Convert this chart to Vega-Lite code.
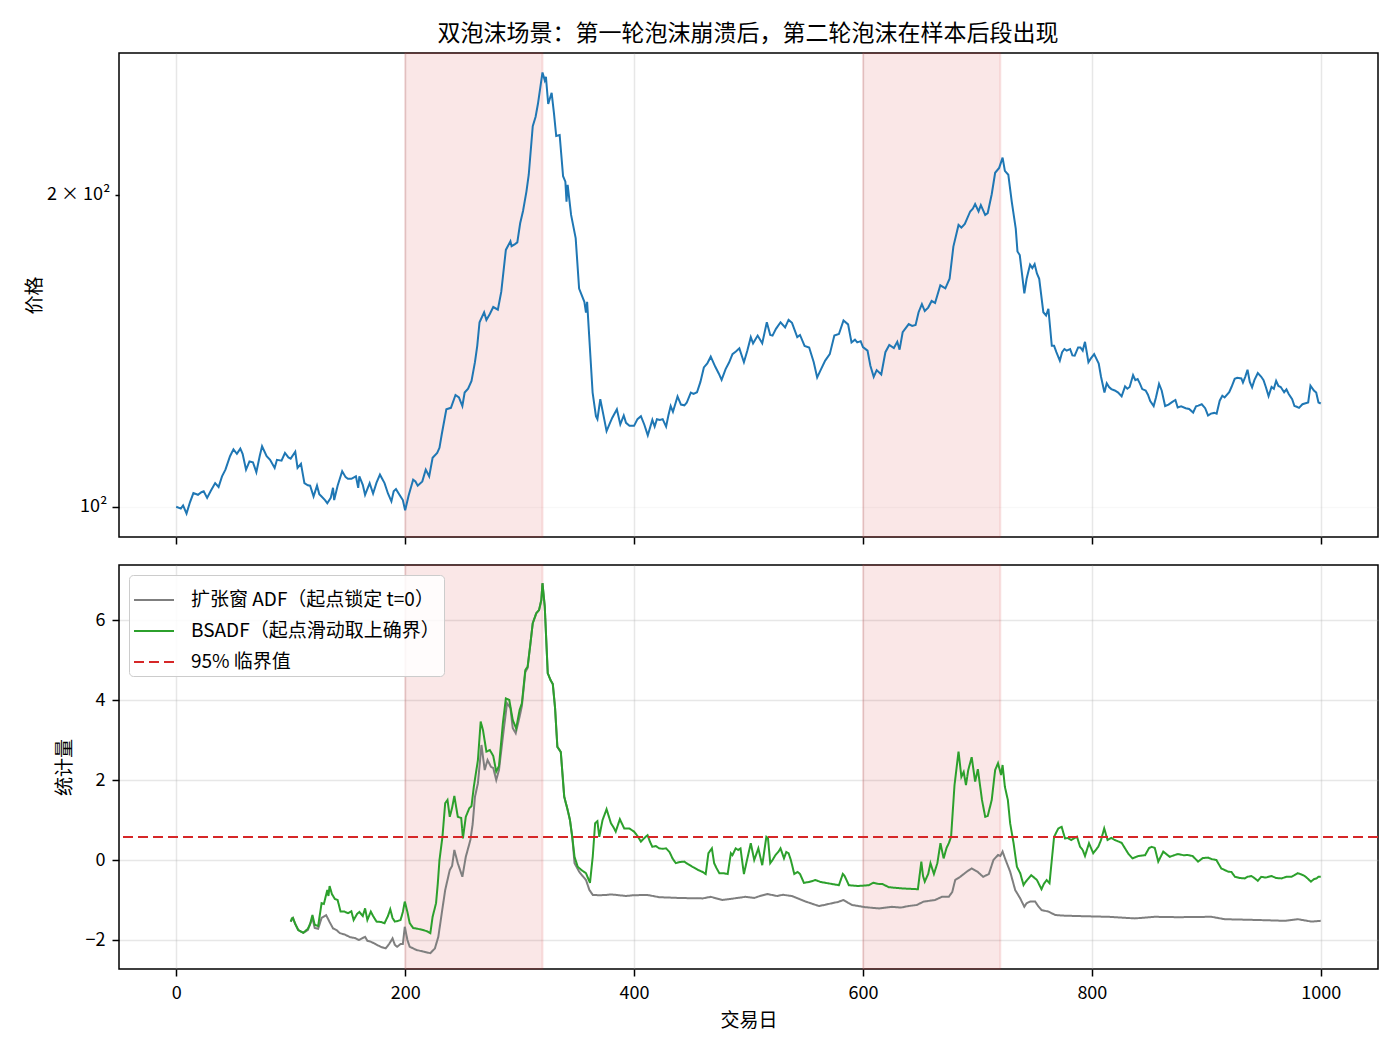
{
  "$schema": "https://vega.github.io/schema/vega-lite/v6.json",
  "background": "white",
  "padding": {"left": 24, "top": 23, "right": 17, "bottom": 5},
  "title": {
    "text": "双泡沫场景：第一轮泡沫崩溃后，第二轮泡沫在样本后段出现",
    "fontSize": 23,
    "fontWeight": "normal",
    "color": "#000000",
    "anchor": "middle",
    "offset": 5,
    "dx": 46
  },
  "config": {
    "font": "Noto Sans CJK SC",
    "view": {"stroke": "#000000", "strokeWidth": 1.5},
    "axis": {
      "domain": false,
      "labelFontSize": 18,
      "labelColor": "#000000",
      "labelPadding": 5,
      "titleFontSize": 19,
      "titleFontWeight": "normal",
      "titleColor": "#000000",
      "titlePadding": 8,
      "tickColor": "#000000",
      "tickWidth": 1.5,
      "tickSize": 7,
      "gridColor": "#b0b0b0",
      "gridOpacity": 0.3,
      "gridWidth": 1.5
    }
  },
  "resolve": {
    "scale": {"color": "independent", "strokeDash": "independent"},
    "legend": {"color": "independent", "strokeDash": "independent"}
  },
  "datasets": {
    "spans": [{"start": 200, "end": 320}, {"start": 600, "end": 720}],
    "critical": [{"v": 0.575}],
    "price": [
      {"t":0,"p":100},{"t":4,"p":99.6},{"t":6,"p":100.3},{"t":9,"p":98.5},{"t":12,"p":101},{"t":15,"p":103.1},{"t":19,"p":102.7},{"t":22,"p":103.3},{"t":24,"p":103.5},{"t":27,"p":102},{"t":30,"p":103.5},{"t":34,"p":105.4},{"t":37,"p":104.5},{"t":40,"p":107},{"t":43,"p":108.6},{"t":47,"p":111.9},{"t":50,"p":113.6},{"t":53,"p":112.5},{"t":56,"p":113.8},{"t":58,"p":112.5},{"t":61,"p":108.6},{"t":64,"p":110.6},{"t":67,"p":110.4},{"t":70,"p":108},{"t":73,"p":112},{"t":75,"p":114.4},{"t":79,"p":111.9},{"t":82,"p":111},{"t":86,"p":109},{"t":88,"p":111},{"t":92,"p":110.8},{"t":95,"p":112.7},{"t":98,"p":111.6},{"t":100,"p":111.3},{"t":104,"p":113},{"t":106,"p":109},{"t":109,"p":110},{"t":112,"p":105.4},{"t":115,"p":104.9},{"t":117,"p":104.8},{"t":120,"p":102.3},{"t":123,"p":104.8},{"t":125,"p":102.8},{"t":127,"p":102.3},{"t":130,"p":101.5},{"t":132,"p":100.8},{"t":135,"p":102},{"t":137,"p":104.3},{"t":138,"p":101.5},{"t":141,"p":104.8},{"t":145,"p":108.2},{"t":148,"p":106.8},{"t":150,"p":106.4},{"t":153,"p":106.4},{"t":157,"p":107},{"t":159,"p":104.3},{"t":160,"p":107},{"t":163,"p":105},{"t":165,"p":102.7},{"t":169,"p":105.4},{"t":172,"p":103},{"t":175,"p":105.5},{"t":178,"p":107.4},{"t":182,"p":105.4},{"t":185,"p":103},{"t":188,"p":101.2},{"t":190,"p":103.5},{"t":192,"p":104},{"t":196,"p":102.3},{"t":198,"p":101.5},{"t":200,"p":99.2},{"t":203,"p":102.5},{"t":207,"p":106.2},{"t":209,"p":105.8},{"t":211,"p":104.8},{"t":215,"p":105.8},{"t":218,"p":108.6},{"t":221,"p":107},{"t":224,"p":111.5},{"t":228,"p":112.7},{"t":230,"p":114},{"t":232,"p":117.5},{"t":236,"p":124.2},{"t":240,"p":124.6},{"t":244,"p":128.2},{"t":247,"p":127.5},{"t":250,"p":125.1},{"t":252,"p":128.9},{"t":255,"p":130},{"t":258,"p":132.3},{"t":261,"p":137.9},{"t":263,"p":143},{"t":265,"p":150.7},{"t":269,"p":154.1},{"t":271,"p":151.5},{"t":274,"p":153.5},{"t":277,"p":155.9},{"t":281,"p":155},{"t":284,"p":161.3},{"t":288,"p":177},{"t":292,"p":180.4},{"t":293,"p":178.5},{"t":296,"p":179.3},{"t":298,"p":180},{"t":300.5,"p":187.8},{"t":303,"p":193},{"t":306,"p":201.6},{"t":308,"p":209.2},{"t":311.5,"p":233},{"t":314,"p":238},{"t":316,"p":244.8},{"t":320,"p":262.6},{"t":322,"p":258},{"t":323,"p":260},{"t":325,"p":244.8},{"t":328,"p":251},{"t":330,"p":240},{"t":332,"p":228},{"t":335,"p":228.5},{"t":338,"p":208.5},{"t":340,"p":206},{"t":341,"p":197},{"t":342,"p":204.5},{"t":345,"p":191.3},{"t":349,"p":181.7},{"t":352,"p":162.4},{"t":356.6,"p":157.7},{"t":358,"p":154},{"t":359,"p":157.7},{"t":363.8,"p":128.9},{"t":366.7,"p":122.3},{"t":368,"p":121.5},{"t":370.5,"p":127},{"t":373,"p":123},{"t":376,"p":118.3},{"t":379,"p":120.5},{"t":381,"p":121.9},{"t":385,"p":124.2},{"t":388,"p":120.1},{"t":391,"p":122.5},{"t":393,"p":120.5},{"t":396,"p":119.7},{"t":400,"p":119.7},{"t":403,"p":121.5},{"t":406,"p":122.3},{"t":409,"p":120},{"t":412,"p":117.2},{"t":416,"p":121.3},{"t":418,"p":119.5},{"t":420,"p":121.5},{"t":422.6,"p":121.3},{"t":425,"p":121.5},{"t":428,"p":119.5},{"t":430,"p":122.5},{"t":432,"p":125.1},{"t":434,"p":123.5},{"t":438,"p":127.8},{"t":441,"p":125.5},{"t":444,"p":125.3},{"t":446,"p":126},{"t":449.6,"p":128.9},{"t":452,"p":128.5},{"t":455,"p":129},{"t":458,"p":132},{"t":461,"p":136.3},{"t":464,"p":137.5},{"t":467,"p":139.6},{"t":471,"p":136.5},{"t":474,"p":134.5},{"t":476.5,"p":132.6},{"t":480,"p":135.8},{"t":483,"p":137.8},{"t":486,"p":140.4},{"t":489,"p":141.2},{"t":492,"p":142.2},{"t":496,"p":137.9},{"t":499,"p":141.5},{"t":502,"p":145.8},{"t":504,"p":143.8},{"t":508,"p":146.3},{"t":512,"p":143.8},{"t":516,"p":150.7},{"t":519,"p":146.5},{"t":521,"p":146.3},{"t":524,"p":148.5},{"t":528,"p":150.7},{"t":532,"p":149},{"t":535,"p":151.5},{"t":538,"p":150.5},{"t":542.6,"p":145.8},{"t":545,"p":146.5},{"t":549,"p":143},{"t":553,"p":142.5},{"t":557,"p":137.9},{"t":560,"p":133.3},{"t":563,"p":135.5},{"t":567,"p":138.4},{"t":571,"p":140.4},{"t":575,"p":146.3},{"t":579,"p":146.8},{"t":583,"p":151.3},{"t":587,"p":150},{"t":590,"p":144.1},{"t":593,"p":145},{"t":595,"p":144.1},{"t":598,"p":144.5},{"t":600,"p":142.6},{"t":604,"p":141.5},{"t":606.5,"p":136.8},{"t":609.4,"p":133.5},{"t":612,"p":135.5},{"t":616,"p":134.2},{"t":619.6,"p":141},{"t":623,"p":143.3},{"t":627,"p":142.3},{"t":630,"p":144.3},{"t":632,"p":141.8},{"t":634.7,"p":147.4},{"t":640,"p":150.1},{"t":643,"p":149.5},{"t":646,"p":149.8},{"t":648.6,"p":154.1},{"t":651.5,"p":156.9},{"t":654,"p":154.5},{"t":657,"p":155.7},{"t":660,"p":158},{"t":663,"p":157.3},{"t":667.6,"p":163.6},{"t":672,"p":162.5},{"t":675.7,"p":166},{"t":679,"p":178.3},{"t":683.5,"p":187.1},{"t":686,"p":186},{"t":689,"p":187.5},{"t":693.7,"p":192.8},{"t":696,"p":194},{"t":698,"p":196},{"t":701,"p":192.8},{"t":703,"p":195.5},{"t":706.8,"p":191.3},{"t":709,"p":192.1},{"t":712.5,"p":200.3},{"t":715.5,"p":210.1},{"t":719,"p":212.4},{"t":722,"p":217.3},{"t":724,"p":211},{"t":727,"p":209.2},{"t":730,"p":197},{"t":733.5,"p":185.6},{"t":735,"p":176.4},{"t":737,"p":175},{"t":741,"p":160.7},{"t":743,"p":166},{"t":746,"p":171.3},{"t":748,"p":170},{"t":750,"p":171.5},{"t":752,"p":168},{"t":754,"p":166},{"t":757.6,"p":154.1},{"t":760,"p":153},{"t":762,"p":155.3},{"t":765,"p":143},{"t":767,"p":143},{"t":769,"p":141},{"t":772,"p":138.4},{"t":774,"p":141},{"t":776,"p":142},{"t":778,"p":141.5},{"t":781,"p":142},{"t":783,"p":140},{"t":785,"p":139.9},{"t":788,"p":142.5},{"t":790,"p":142.5},{"t":792,"p":141.5},{"t":794,"p":144.3},{"t":797,"p":137.9},{"t":799,"p":139},{"t":802,"p":140.4},{"t":806,"p":137.5},{"t":808,"p":133.5},{"t":811,"p":128.9},{"t":813,"p":131.6},{"t":815,"p":130.5},{"t":817,"p":129.9},{"t":820,"p":129.5},{"t":823,"p":128.9},{"t":826,"p":127.8},{"t":829,"p":130.7},{"t":831,"p":130},{"t":833,"p":130.5},{"t":836,"p":134},{"t":838,"p":132.5},{"t":840,"p":132.8},{"t":842,"p":131.5},{"t":844,"p":129.9},{"t":847,"p":129.5},{"t":849,"p":128.3},{"t":851,"p":126.5},{"t":854,"p":125.1},{"t":856,"p":127.5},{"t":858.7,"p":131.4},{"t":861,"p":129.5},{"t":864,"p":125.1},{"t":867,"p":125.5},{"t":870,"p":126.2},{"t":873,"p":126.8},{"t":875,"p":124.7},{"t":878,"p":125},{"t":882,"p":124.5},{"t":885,"p":124.3},{"t":888.5,"p":123.3},{"t":891,"p":125},{"t":893,"p":125.2},{"t":896,"p":125.6},{"t":899,"p":124.5},{"t":901.5,"p":122.5},{"t":904,"p":123},{"t":907,"p":123.2},{"t":909,"p":123},{"t":911.7,"p":126.6},{"t":914,"p":128},{"t":916,"p":127.5},{"t":920,"p":129},{"t":922,"p":130.5},{"t":924.8,"p":132.9},{"t":927,"p":133.2},{"t":930.6,"p":133},{"t":932,"p":131.8},{"t":934,"p":133.5},{"t":936,"p":135.6},{"t":938,"p":132},{"t":940,"p":130.4},{"t":942,"p":132.5},{"t":945,"p":134.6},{"t":948,"p":133.5},{"t":950,"p":132.5},{"t":952,"p":130.5},{"t":954.4,"p":127.9},{"t":957,"p":130.5},{"t":959,"p":130},{"t":961,"p":132.3},{"t":963,"p":130.8},{"t":965,"p":130.5},{"t":968,"p":129},{"t":970,"p":129.8},{"t":972,"p":128.5},{"t":975,"p":127},{"t":977,"p":125.1},{"t":979,"p":124.9},{"t":981,"p":124.6},{"t":984,"p":125.6},{"t":986,"p":125.8},{"t":989,"p":126.1},{"t":991,"p":130.9},{"t":994,"p":129.5},{"t":996,"p":128.9},{"t":998,"p":126.1},{"t":1000,"p":125.8}
    ],
    "adf": [
      {"t":100,"v":-1.54},{"t":102,"v":-1.45},{"t":104,"v":-1.6},{"t":106.6,"v":-1.75},{"t":111,"v":-1.82},{"t":115,"v":-1.75},{"t":119,"v":-1.45},{"t":121,"v":-1.7},{"t":124,"v":-1.72},{"t":127,"v":-1.45},{"t":131,"v":-1.38},{"t":134,"v":-1.55},{"t":137,"v":-1.71},{"t":140,"v":-1.75},{"t":143,"v":-1.83},{"t":147,"v":-1.86},{"t":152,"v":-1.93},{"t":156,"v":-1.95},{"t":159.6,"v":-2.0},{"t":163,"v":-1.95},{"t":165,"v":-1.92},{"t":167,"v":-2.02},{"t":169.8,"v":-2.04},{"t":174,"v":-2.1},{"t":178.6,"v":-2.17},{"t":183,"v":-2.21},{"t":186,"v":-2.1},{"t":189,"v":-1.96},{"t":191,"v":-2.12},{"t":193,"v":-2.17},{"t":196,"v":-2.1},{"t":198,"v":-2.1},{"t":199.7,"v":-1.67},{"t":202,"v":-2.0},{"t":204,"v":-2.17},{"t":210,"v":-2.25},{"t":216,"v":-2.29},{"t":222,"v":-2.33},{"t":226,"v":-2.21},{"t":229,"v":-1.92},{"t":232,"v":-1.33},{"t":235,"v":-0.75},{"t":239,"v":-0.25},{"t":241,"v":-0.15},{"t":243,"v":0.25},{"t":246,"v":-0.08},{"t":250,"v":-0.42},{"t":253,"v":0.08},{"t":257,"v":0.5},{"t":259,"v":0.9},{"t":261,"v":1.58},{"t":263.6,"v":1.92},{"t":266.7,"v":2.875},{"t":269.5,"v":2.25},{"t":272,"v":2.5},{"t":275,"v":2.33},{"t":277,"v":2.3},{"t":279.6,"v":2.0},{"t":282,"v":2.25},{"t":285.4,"v":3.08},{"t":289,"v":3.92},{"t":292,"v":3.8},{"t":294,"v":3.3},{"t":296.6,"v":3.17},{"t":300,"v":3.58},{"t":302,"v":3.85},{"t":305,"v":4.7},{"t":307,"v":4.8},{"t":309,"v":5.3},{"t":311.5,"v":5.92},{"t":314.6,"v":6.17},{"t":317,"v":6.25},{"t":319,"v":6.5},{"t":320,"v":6.92},{"t":322,"v":6.33},{"t":324.6,"v":4.67},{"t":327,"v":4.5},{"t":329,"v":4.4},{"t":331,"v":3.8},{"t":333,"v":2.83},{"t":336,"v":2.7},{"t":339,"v":1.58},{"t":342,"v":1.25},{"t":344,"v":1.0},{"t":346,"v":0.58},{"t":348,"v":-0.08},{"t":352,"v":-0.29},{"t":355,"v":-0.4},{"t":358,"v":-0.5},{"t":361,"v":-0.75},{"t":364,"v":-0.875},{"t":370,"v":-0.88},{"t":375.5,"v":-0.875},{"t":380,"v":-0.86},{"t":393,"v":-0.9},{"t":400,"v":-0.88},{"t":411.8,"v":-0.875},{"t":422,"v":-0.93},{"t":440,"v":-0.95},{"t":460,"v":-0.96},{"t":467,"v":-0.92},{"t":477,"v":-1.0},{"t":485,"v":-0.97},{"t":497.5,"v":-0.92},{"t":505,"v":-0.95},{"t":510,"v":-0.9},{"t":516.4,"v":-0.85},{"t":525,"v":-0.9},{"t":530,"v":-0.87},{"t":538,"v":-0.9},{"t":544,"v":-0.97},{"t":550,"v":-1.04},{"t":561.5,"v":-1.15},{"t":567,"v":-1.12},{"t":573,"v":-1.08},{"t":578,"v":-1.05},{"t":583,"v":-1.0},{"t":587,"v":-1.07},{"t":590.6,"v":-1.125},{"t":602,"v":-1.18},{"t":614,"v":-1.21},{"t":625.4,"v":-1.17},{"t":633,"v":-1.19},{"t":640,"v":-1.15},{"t":647,"v":-1.125},{"t":653,"v":-1.04},{"t":663,"v":-1.0},{"t":669,"v":-0.92},{"t":675,"v":-0.92},{"t":678,"v":-0.8},{"t":680.6,"v":-0.5},{"t":685,"v":-0.42},{"t":690.8,"v":-0.29},{"t":695,"v":-0.21},{"t":700,"v":-0.29},{"t":705,"v":-0.42},{"t":710,"v":-0.35},{"t":714,"v":0.0},{"t":718,"v":0.125},{"t":720,"v":0.1},{"t":722,"v":0.21},{"t":724,"v":0.05},{"t":726,"v":-0.1},{"t":728.6,"v":-0.29},{"t":733,"v":-0.75},{"t":737.4,"v":-0.96},{"t":741,"v":-1.17},{"t":743,"v":-1.08},{"t":746,"v":-1.04},{"t":750.5,"v":-1.04},{"t":753,"v":-1.15},{"t":756,"v":-1.25},{"t":762,"v":-1.29},{"t":768,"v":-1.375},{"t":775,"v":-1.39},{"t":785.5,"v":-1.4},{"t":800,"v":-1.41},{"t":814.3,"v":-1.42},{"t":837.6,"v":-1.46},{"t":855,"v":-1.42},{"t":875,"v":-1.43},{"t":904.4,"v":-1.42},{"t":916,"v":-1.48},{"t":945,"v":-1.5},{"t":968.5,"v":-1.52},{"t":980,"v":-1.48},{"t":991.8,"v":-1.54},{"t":1000,"v":-1.52}
    ],
    "bsadf": [
      {"t":100,"v":-1.54},{"t":101,"v":-1.46},{"t":102,"v":-1.45},{"t":104,"v":-1.6},{"t":106.6,"v":-1.75},{"t":111,"v":-1.82},{"t":115,"v":-1.72},{"t":117,"v":-1.6},{"t":119,"v":-1.375},{"t":121,"v":-1.62},{"t":124,"v":-1.65},{"t":127,"v":-1.08},{"t":129,"v":-1.1},{"t":132,"v":-0.75},{"t":133,"v":-0.9},{"t":134,"v":-0.65},{"t":136,"v":-0.85},{"t":138.6,"v":-0.975},{"t":141,"v":-1.0},{"t":143.6,"v":-1.29},{"t":147,"v":-1.29},{"t":150,"v":-1.33},{"t":153,"v":-1.28},{"t":155,"v":-1.5},{"t":158,"v":-1.35},{"t":160,"v":-1.3},{"t":163,"v":-1.4},{"t":165,"v":-1.21},{"t":167,"v":-1.5},{"t":170,"v":-1.29},{"t":172,"v":-1.4},{"t":175,"v":-1.54},{"t":179,"v":-1.55},{"t":182,"v":-1.58},{"t":185,"v":-1.4},{"t":187,"v":-1.23},{"t":189,"v":-1.45},{"t":191,"v":-1.54},{"t":194,"v":-1.52},{"t":196,"v":-1.5},{"t":198,"v":-1.3},{"t":199.7,"v":-1.04},{"t":202,"v":-1.3},{"t":204,"v":-1.58},{"t":207,"v":-1.7},{"t":211,"v":-1.72},{"t":215.6,"v":-1.75},{"t":219,"v":-1.78},{"t":222,"v":-1.83},{"t":224,"v":-1.42},{"t":227,"v":-1.08},{"t":228.5,"v":-0.6},{"t":230,"v":0.0},{"t":232.6,"v":0.58},{"t":235,"v":1.42},{"t":237,"v":1.5},{"t":239,"v":1.08},{"t":241,"v":1.3},{"t":243,"v":1.6},{"t":246,"v":1.08},{"t":249,"v":1.05},{"t":250.5,"v":0.54},{"t":253,"v":1.08},{"t":256,"v":1.29},{"t":258,"v":1.35},{"t":260,"v":1.83},{"t":263.6,"v":2.5},{"t":266,"v":3.46},{"t":268,"v":3.25},{"t":271,"v":2.71},{"t":274,"v":2.75},{"t":277,"v":2.6},{"t":279.6,"v":2.21},{"t":282,"v":2.35},{"t":285.4,"v":3.42},{"t":288,"v":4.04},{"t":291,"v":4.0},{"t":294,"v":3.5},{"t":297,"v":3.29},{"t":300,"v":3.75},{"t":302,"v":3.92},{"t":305,"v":4.75},{"t":307,"v":4.83},{"t":309,"v":5.3},{"t":311.5,"v":5.92},{"t":314.6,"v":6.17},{"t":317,"v":6.25},{"t":319,"v":6.5},{"t":320,"v":6.92},{"t":322,"v":6.33},{"t":324.6,"v":4.67},{"t":327,"v":4.5},{"t":329,"v":4.4},{"t":331,"v":3.8},{"t":333,"v":2.83},{"t":336,"v":2.7},{"t":339,"v":1.58},{"t":342,"v":1.25},{"t":344,"v":1.0},{"t":346,"v":0.58},{"t":348,"v":0.08},{"t":350.8,"v":-0.17},{"t":354,"v":-0.25},{"t":358,"v":-0.33},{"t":361.5,"v":-0.57},{"t":363.9,"v":0.08},{"t":366,"v":0.92},{"t":368,"v":0.97},{"t":369.6,"v":0.58},{"t":372.5,"v":1.0},{"t":376,"v":1.27},{"t":379.8,"v":0.92},{"t":382,"v":0.82},{"t":384,"v":0.71},{"t":387.6,"v":1.02},{"t":391.4,"v":0.79},{"t":395.8,"v":0.79},{"t":400,"v":0.71},{"t":403,"v":0.6},{"t":406,"v":0.46},{"t":409,"v":0.55},{"t":411.8,"v":0.62},{"t":414,"v":0.45},{"t":416,"v":0.33},{"t":419,"v":0.35},{"t":422,"v":0.29},{"t":425,"v":0.28},{"t":428,"v":0.29},{"t":431,"v":0.2},{"t":433.6,"v":0.04},{"t":436.5,"v":-0.08},{"t":440,"v":-0.05},{"t":443.8,"v":-0.04},{"t":447,"v":-0.1},{"t":451,"v":-0.17},{"t":456,"v":-0.25},{"t":460,"v":-0.3},{"t":462.6,"v":-0.35},{"t":465,"v":0.17},{"t":468,"v":0.29},{"t":470,"v":-0.08},{"t":472,"v":-0.2},{"t":474.5,"v":-0.33},{"t":478,"v":-0.33},{"t":481.8,"v":-0.35},{"t":484.6,"v":0.17},{"t":486,"v":0.12},{"t":488.8,"v":0.29},{"t":491,"v":0.25},{"t":493,"v":0.29},{"t":496,"v":-0.35},{"t":499,"v":0.04},{"t":502,"v":0.42},{"t":505,"v":0.0},{"t":508.6,"v":0.29},{"t":512,"v":-0.13},{"t":515.6,"v":0.58},{"t":517,"v":0.55},{"t":519,"v":-0.08},{"t":521,"v":0.0},{"t":523.6,"v":0.125},{"t":526,"v":0.2},{"t":528,"v":0.29},{"t":531,"v":0.04},{"t":533,"v":0.2},{"t":535,"v":0.17},{"t":537,"v":0.0},{"t":540,"v":-0.35},{"t":543,"v":-0.3},{"t":545,"v":-0.35},{"t":548.4,"v":-0.57},{"t":553,"v":-0.55},{"t":558.6,"v":-0.5},{"t":563,"v":-0.55},{"t":567,"v":-0.57},{"t":573,"v":-0.6},{"t":579,"v":-0.63},{"t":582.4,"v":-0.35},{"t":584,"v":-0.4},{"t":587.7,"v":-0.63},{"t":596,"v":-0.65},{"t":605,"v":-0.63},{"t":609,"v":-0.57},{"t":614,"v":-0.6},{"t":617,"v":-0.6},{"t":622.5,"v":-0.68},{"t":634,"v":-0.71},{"t":648,"v":-0.73},{"t":651,"v":-0.04},{"t":652.5,"v":-0.4},{"t":654,"v":-0.54},{"t":657,"v":-0.35},{"t":659,"v":-0.08},{"t":662,"v":-0.35},{"t":665,"v":-0.08},{"t":667.7,"v":0.42},{"t":670.5,"v":0.04},{"t":673,"v":0.3},{"t":675,"v":0.42},{"t":677,"v":0.58},{"t":680,"v":1.875},{"t":683.5,"v":2.71},{"t":686,"v":2.08},{"t":688,"v":2.2},{"t":690,"v":1.875},{"t":692,"v":2.25},{"t":695,"v":2.57},{"t":698,"v":1.96},{"t":700.4,"v":2.27},{"t":704,"v":1.5},{"t":706.8,"v":1.08},{"t":709,"v":1.1},{"t":712.5,"v":1.5},{"t":715.5,"v":2.25},{"t":718,"v":2.42},{"t":720.7,"v":2.125},{"t":722,"v":2.375},{"t":724,"v":1.83},{"t":726.6,"v":1.5},{"t":728.6,"v":0.92},{"t":731.6,"v":0.42},{"t":734.5,"v":-0.17},{"t":737.4,"v":-0.33},{"t":740.3,"v":-0.625},{"t":742,"v":-0.55},{"t":744.7,"v":-0.46},{"t":747,"v":-0.38},{"t":750,"v":-0.45},{"t":752,"v":-0.5},{"t":756,"v":-0.73},{"t":758,"v":-0.6},{"t":760.5,"v":-0.5},{"t":763,"v":-0.58},{"t":765,"v":0.0},{"t":767,"v":0.58},{"t":770.7,"v":0.79},{"t":773.6,"v":0.83},{"t":776.5,"v":0.54},{"t":779,"v":0.55},{"t":782,"v":0.5},{"t":787,"v":0.58},{"t":789.7,"v":0.33},{"t":792,"v":0.25},{"t":794,"v":0.1},{"t":797.5,"v":0.42},{"t":801.2,"v":0.17},{"t":805.6,"v":0.33},{"t":808,"v":0.5},{"t":810.8,"v":0.79},{"t":813.7,"v":0.5},{"t":817,"v":0.55},{"t":820,"v":0.5},{"t":826,"v":0.43},{"t":829,"v":0.29},{"t":832,"v":0.15},{"t":835.5,"v":0.04},{"t":840.7,"v":0.1},{"t":846.5,"v":0.12},{"t":850,"v":0.3},{"t":852.3,"v":0.33},{"t":855,"v":0.3},{"t":858,"v":-0.04},{"t":862.4,"v":0.21},{"t":865,"v":0.15},{"t":868,"v":0.08},{"t":872,"v":0.12},{"t":875.4,"v":0.15},{"t":880,"v":0.12},{"t":884,"v":0.125},{"t":888,"v":0.1},{"t":892.8,"v":-0.04},{"t":897,"v":0.05},{"t":901.5,"v":0.06},{"t":905,"v":0.02},{"t":908.8,"v":0.0},{"t":913,"v":-0.21},{"t":916,"v":-0.25},{"t":919,"v":-0.29},{"t":922,"v":-0.3},{"t":925,"v":-0.42},{"t":929,"v":-0.45},{"t":933.6,"v":-0.46},{"t":936,"v":-0.42},{"t":939.4,"v":-0.4},{"t":942,"v":-0.45},{"t":945,"v":-0.52},{"t":948,"v":-0.42},{"t":952,"v":-0.44},{"t":956.9,"v":-0.4},{"t":961,"v":-0.45},{"t":965.6,"v":-0.46},{"t":970,"v":-0.42},{"t":974.3,"v":-0.42},{"t":977,"v":-0.38},{"t":980,"v":-0.33},{"t":983,"v":-0.36},{"t":986,"v":-0.4},{"t":988,"v":-0.45},{"t":991.4,"v":-0.54},{"t":994,"v":-0.48},{"t":996.3,"v":-0.46},{"t":998,"v":-0.42},{"t":1000,"v":-0.42}
    ]
  },
  "spacing": 17,
  "vconcat": [
    {
      "width": 1259,
      "height": 484,
      "layer": [
        {
          "data": {"name": "spans"},
          "mark": {"type": "rect", "color": "#d62728", "fillOpacity": 0.11, "stroke": "#d62728", "strokeOpacity": 0.12, "strokeWidth": 2},
          "encoding": {
            "x": {"field": "start", "type": "quantitative", "scale": {"domain": [-50, 1050], "nice": false, "zero": false}},
            "x2": {"field": "end"}
          }
        },
        {
          "data": {"name": "price"},
          "mark": {"type": "line", "color": "#1f77b4", "strokeWidth": 2},
          "encoding": {
            "x": {
              "field": "t", "type": "quantitative",
              "scale": {"domain": [-50, 1050], "nice": false, "zero": false},
              "axis": {"values": [0, 200, 400, 600, 800, 1000], "labels": false, "title": null}
            },
            "y": {
              "field": "p", "type": "quantitative",
              "scale": {"type": "log", "domain": [93.5, 274.2], "nice": false},
              "axis": {
                "title": "价格",
                "titlePadding": 2.5,
                "labelPadding": 5,
                "values": [100, 200],
                "labelExpr": "datum.value == 100 ? '10²' : '2 × 10²'",
                "gridOpacity": {"condition": {"test": "datum.value == 100", "value": 0.3}, "value": 0},
                "tickSize": {"condition": {"test": "datum.value == 100", "value": 7}, "value": 4}
              }
            }
          }
        }
      ]
    },
    {
      "width": 1259,
      "height": 404,
      "layer": [
        {
          "data": {"name": "spans"},
          "mark": {"type": "rect", "color": "#d62728", "fillOpacity": 0.11, "stroke": "#d62728", "strokeOpacity": 0.12, "strokeWidth": 2},
          "encoding": {
            "x": {"field": "start", "type": "quantitative", "scale": {"domain": [-50, 1050], "nice": false, "zero": false}},
            "x2": {"field": "end"}
          }
        },
        {
          "data": {"name": "adf"},
          "mark": {"type": "line", "strokeWidth": 2},
          "encoding": {
            "x": {
              "field": "t", "type": "quantitative",
              "scale": {"domain": [-50, 1050], "nice": false, "zero": false},
              "axis": {"values": [0, 200, 400, 600, 800, 1000], "title": "交易日", "format": "d", "labelPadding": 8, "titlePadding": 9}
            },
            "y": {
              "field": "v", "type": "quantitative",
              "scale": {"domain": [-2.725, 7.375], "nice": false, "zero": false},
              "axis": {"title": "统计量", "titlePadding": 11, "labelPadding": 7, "values": [-2, 0, 2, 4, 6], "labelExpr": "replace(datum.label, '-', '−')"}
            },
            "color": {
              "datum": "扩张窗 ADF（起点锁定 t=0）",
              "scale": {
                "domain": ["扩张窗 ADF（起点锁定 t=0）", "BSADF（起点滑动取上确界）", "95% 临界值"],
                "range": ["#7f7f7f", "#2ca02c", "#d62728"]
              },
              "legend": {
                "title": null,
                "orient": "top-left",
                "offset": 10,
                "padding": 4,
                "fillColor": "rgba(255,255,255,0.85)",
                "strokeColor": "#cccccc",
                "cornerRadius": 4,
                "symbolType": "stroke",
                "symbolSize": 1600,
                "symbolStrokeWidth": 2,
                "labelFontSize": 19,
                "labelColor": "#000000",
                "labelOffset": 16,
                "labelLimit": 400,
                "rowPadding": -2
              }
            },
            "strokeDash": {
              "datum": "扩张窗 ADF（起点锁定 t=0）",
              "scale": {
                "domain": ["扩张窗 ADF（起点锁定 t=0）", "BSADF（起点滑动取上确界）", "95% 临界值"],
                "range": [[1, 0], [1, 0], [10, 5]]
              }
            }
          }
        },
        {
          "data": {"name": "bsadf"},
          "mark": {"type": "line", "strokeWidth": 2},
          "encoding": {
            "x": {"field": "t", "type": "quantitative"},
            "y": {"field": "v", "type": "quantitative"},
            "color": {"datum": "BSADF（起点滑动取上确界）"},
            "strokeDash": {"datum": "BSADF（起点滑动取上确界）"}
          }
        },
        {
          "data": {"name": "critical"},
          "mark": {"type": "rule", "strokeWidth": 2},
          "encoding": {
            "y": {"field": "v", "type": "quantitative"},
            "color": {"datum": "95% 临界值"},
            "strokeDash": {"datum": "95% 临界值"}
          }
        }
      ]
    }
  ]
}
